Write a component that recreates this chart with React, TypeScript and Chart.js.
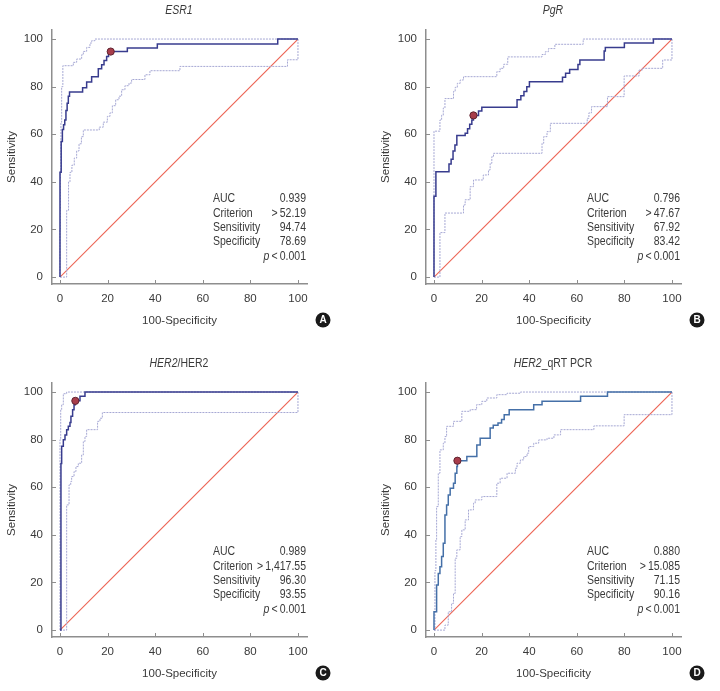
import React, { useEffect, useRef } from 'react';
import { Chart, registerables } from 'chart.js';

Chart.register(...registerables);

const FONT_FAMILY = "'Liberation Sans', Arial, sans-serif";
const AXIS_COLOR = '#8e8e8e';
const TEXT_COLOR = '#3a3a3a';
const CI_COLOR = '#a6a8d4';
const DIAGONAL_COLOR = 'rgb(236, 100, 84)';
const TEXT_SQUEEZE = 0.84;

const TICK_VALUES = [0, 20, 40, 60, 80, 100];
const STAT_LABELS = ['AUC', 'Criterion', 'Sensitivity', 'Specificity'];

type Step = [number, number];

// ROC curves: each pair is [100-specificity, sensitivity] at the top of a vertical step.
const ESR1_MAIN: Step[] = [
  [0, 44], [0.5, 57], [1, 62], [1.5, 64], [2, 66], [2.5, 70], [3, 73], [3.5, 76], [4, 77.8],
  [9.5, 79.5], [11.2, 82], [13.3, 84.2], [16.1, 87.5], [17.5, 89.2], [18.5, 91], [19.6, 92.7],
  [20.4, 94], [21.31, 94.74], [28.3, 96.2], [40.9, 97.9], [91.5, 100],
];
const ESR1_UPPER: Step[] = [
  [0, 20], [0.2, 45], [0.4, 65], [0.7, 80], [1.2, 88.8], [5.6, 90.2], [7, 91.6], [9.1, 93.4],
  [9.8, 94.8], [11.2, 96.5], [12.6, 98.3], [13.3, 99.3], [14.7, 100],
];
const ESR1_LOWER: Step[] = [
  [2.8, 28], [3.6, 40], [4.2, 44], [5, 47], [6, 50], [7, 53], [8, 56], [9, 59], [9.8, 61.8],
  [16.5, 63], [18.2, 65.1], [19.9, 67.5], [21, 69], [22, 72], [23.4, 74.5], [24.8, 76],
  [25.9, 78.7], [27.3, 80.4], [29, 81.5], [30.1, 83], [35.7, 85], [37.8, 86.7], [50.4, 88.5],
  [95.6, 91.3],
];

const PGR_MAIN: Step[] = [
  [0, 34], [0.8, 44.3], [6.3, 47.5], [7.2, 49.5], [8, 53], [8.8, 55.5], [9.6, 59.5], [13.1, 60.4],
  [14.1, 62.3], [15, 64.2], [15.9, 66], [16.58, 67.92], [18.7, 69.8], [20.1, 71.3], [34.9, 74.5],
  [36.5, 76.2], [37.8, 78], [39, 80], [40.1, 82.1], [54, 84], [55.3, 85.6], [57, 87.2],
  [60.5, 89.3], [61.3, 91.2], [71.5, 95], [72, 96.5], [80, 98.3], [92.2, 100],
];
const PGR_UPPER: Step[] = [
  [0, 61.3], [2.5, 66], [3.2, 68], [3.9, 71], [4.6, 75], [8.2, 78], [8.9, 79.7], [9.8, 81.4],
  [11, 82.8], [12.4, 84.2], [26.4, 86.3], [27.8, 87.7], [29.3, 89.4], [31, 92.5], [45.4, 93.5],
  [46.8, 94.7], [48.1, 96], [50.8, 97.8], [62.7, 100],
];
const PGR_LOWER: Step[] = [
  [2.5, 18.7], [4.6, 26.9], [12.4, 30.3], [13.1, 32.5], [15.2, 38], [16.6, 40.8], [20.7, 42.9],
  [22.9, 45], [23.6, 47.8], [24.3, 50.6], [25, 52], [45.4, 56.2], [46.1, 59], [47.5, 61.1],
  [48.9, 64.6], [64.4, 66.7], [65.1, 69], [66.2, 71.6], [72.9, 75.8], [79.9, 84.5], [86.2, 87],
  [87.6, 87.7], [96.1, 91.2],
];

const HER2_IHC_MAIN: Step[] = [
  [0.4, 70], [0.7, 77.2], [1.4, 80], [2.1, 82], [2.8, 84.2], [3.5, 85.6], [4.2, 87.2], [4.6, 89.8],
  [5.3, 92.6], [5.9, 94.7], [6.45, 96.3], [8.4, 98.2], [10.5, 100],
];
const HER2_IHC_UPPER: Step[] = [
  [0, 80], [0.3, 92.6], [0.7, 94.7], [1.4, 99.3], [2.8, 100],
];
const HER2_IHC_LOWER: Step[] = [
  [2.8, 52.6], [3.8, 61], [4.5, 62.4], [4.9, 64.5], [5.9, 66.6], [6.7, 68.7], [7.7, 70.1],
  [9.1, 73.6], [9.8, 79.2], [10.5, 81.3], [11.2, 84.2], [15.8, 87.7], [16.8, 89], [17.8, 91.4],
];

const HER2_PCR_MAIN: Step[] = [
  [0, 7.7], [1.1, 18.9], [1.8, 23.8], [2.5, 26.6], [3.2, 30.9], [3.9, 36.5], [4.6, 48.4],
  [5.3, 52.6], [6, 56.8], [6.8, 59.6], [8.2, 61.7], [8.9, 65.9], [9.6, 68.7], [9.84, 71.15],
  [13.8, 72.9], [18, 77.8], [19.4, 80.6], [23.6, 84.9], [24.9, 86], [26.9, 87], [28.4, 88.5],
  [29.5, 90.5], [31.6, 92.6], [41.9, 94.7], [45.4, 96.1], [61.6, 98.2], [72.9, 100],
];
const HER2_PCR_UPPER: Step[] = [
  [0.4, 25], [0.8, 37.9], [1.1, 51.9], [1.8, 65.9], [2.5, 75.7], [3.9, 78.5], [4.6, 81.3],
  [5.3, 85.6], [8.2, 87.7], [11.7, 91.9], [15.2, 92.6], [17.9, 94.7], [20.1, 96.1], [22.2, 97.5],
  [26.4, 98.9], [30.7, 99.5], [36.3, 100],
];
const HER2_PCR_LOWER: Step[] = [
  [4.6, 2.1], [6, 7.7], [7.4, 11.2], [8.2, 15.4], [8.9, 30.2], [9.6, 33.7], [11, 39.3],
  [11.7, 42.1], [13.1, 46.3], [14.5, 50.5], [16.6, 53.3], [17.3, 54.7], [20.1, 56.1],
  [26.4, 61.7], [27.8, 63.8], [30.7, 65.9], [34.2, 68], [34.9, 70.1], [36.3, 71.5], [37.7, 72.9],
  [39.1, 74.3], [39.8, 77.1], [41.9, 78.5], [44, 79.9], [47.5, 80.6], [50.4, 82], [53.2, 84.2],
  [67.2, 85.8], [79.9, 90.5],
];

// Chance line
const DIAGONAL_X = [0, 100];
const DIAGONAL_Y = [0, 100];

// Summary statistics per panel (A, B, C, D)
const AUC_VALUES = ['0.939', '0.796', '0.989', '0.880'];
const CRITERIA = ['52.19', '47.67', '1,417.55', '15.085'];
const SENSITIVITY = [94.74, 67.92, 96.3, 71.15];
const SPECIFICITY = [78.69, 83.42, 93.55, 90.16];
const P_VALUES = ['0.001', '0.001', '0.001', '0.001'];
const LETTERS = ['A', 'B', 'C', 'D'];

// Title pieces: [text, italic]
const TITLES: [string, boolean][][] = [
  [['ESR1', true]],
  [['PgR', true]],
  [['HER2', true], ['/HER2', false]],
  [['HER2', true], ['_qRT PCR', false]],
];

const MAIN_CURVES = [ESR1_MAIN, PGR_MAIN, HER2_IHC_MAIN, HER2_PCR_MAIN];
const UPPER_CURVES = [ESR1_UPPER, PGR_UPPER, HER2_IHC_UPPER, HER2_PCR_UPPER];
const LOWER_CURVES = [ESR1_LOWER, PGR_LOWER, HER2_IHC_LOWER, HER2_PCR_LOWER];
const MAIN_COLORS = ['#383c8e', '#383c8e', '#383c8e', '#4570a8'];

const PANEL_W = 346;
const PANEL_H = 338;
const PANEL_POS = [
  [0, 0],
  [374, 0],
  [0, 353],
  [374, 353],
];

function staircase(steps: Step[]) {
  const out = [{ x: 0, y: 0 }];
  let y = 0;
  for (const [sx, sy] of steps) {
    out.push({ x: sx, y });
    out.push({ x: sx, y: sy });
    y = sy;
  }
  out.push({ x: 100, y });
  if (y !== 100) out.push({ x: 100, y: 100 });
  return out;
}

const font = (size: number, style = 'normal', weight = 'normal') =>
  `${style} ${weight} ${size}px ${FONT_FAMILY}`;

// Draws text horizontally condensed; align is relative to x.
function squeezedText(
  ctx: CanvasRenderingContext2D,
  text: string,
  x: number,
  y: number,
  align: 'left' | 'right' | 'center',
) {
  ctx.save();
  ctx.translate(x, y);
  ctx.scale(TEXT_SQUEEZE, 1);
  ctx.textAlign = align;
  ctx.fillText(text, 0, 0);
  ctx.restore();
}

function makeOverlay(i: number) {
  return {
    id: 'rocOverlay',
    afterDraw(chart: any) {
      const { ctx, chartArea } = chart;
      const xs = chart.scales.x;
      const ys = chart.scales.y;
      ctx.save();

      // inward tick marks
      ctx.strokeStyle = AXIS_COLOR;
      ctx.lineWidth = 1;
      for (const v of TICK_VALUES) {
        const px = Math.round(xs.getPixelForValue(v)) + 0.5;
        ctx.beginPath();
        ctx.moveTo(px, chartArea.bottom);
        ctx.lineTo(px, chartArea.bottom - 4);
        ctx.stroke();
        const py = Math.round(ys.getPixelForValue(v)) + 0.5;
        ctx.beginPath();
        ctx.moveTo(chartArea.left, py);
        ctx.lineTo(chartArea.left + 4, py);
        ctx.stroke();
      }

      // panel title
      ctx.fillStyle = TEXT_COLOR;
      ctx.textBaseline = 'middle';
      const pieces = TITLES[i];
      let total = 0;
      for (const [t, it] of pieces) {
        ctx.font = font(12.5, it ? 'italic' : 'normal');
        total += ctx.measureText(t).width * TEXT_SQUEEZE;
      }
      let tx = (xs.getPixelForValue(0) + xs.getPixelForValue(100)) / 2 - total / 2;
      for (const [t, it] of pieces) {
        ctx.font = font(12.5, it ? 'italic' : 'normal');
        squeezedText(ctx, t, tx, 11, 'left');
        tx += ctx.measureText(t).width * TEXT_SQUEEZE;
      }

      // statistics block
      const labelX = chartArea.left + 161;
      const valueX = chartArea.left + 254;
      const rowY = (r: number) => chartArea.top + 169 + r * 14.3;
      const values = [
        AUC_VALUES[i],
        '>\u2009' + CRITERIA[i],
        SENSITIVITY[i].toFixed(2),
        SPECIFICITY[i].toFixed(2),
      ];
      ctx.font = font(12.5);
      STAT_LABELS.forEach((lab, r) => {
        squeezedText(ctx, lab, labelX, rowY(r), 'left');
        squeezedText(ctx, values[r], valueX, rowY(r), 'right');
      });
      const pRest = '\u2009<\u2009' + P_VALUES[i];
      squeezedText(ctx, pRest, valueX, rowY(4), 'right');
      const restW = ctx.measureText(pRest).width * TEXT_SQUEEZE;
      ctx.font = font(12.5, 'italic');
      squeezedText(ctx, 'p', valueX - restW, rowY(4), 'right');

      // panel letter badge
      const bx = chartArea.right + 16;
      const by = PANEL_H - 18;
      ctx.fillStyle = '#1a1a1a';
      ctx.beginPath();
      ctx.arc(bx, by, 7.5, 0, Math.PI * 2);
      ctx.fill();
      ctx.fillStyle = '#ffffff';
      ctx.font = `normal bold 10px 'Liberation Sans', Arial, sans-serif`;
      ctx.textAlign = 'center';
      ctx.textBaseline = 'middle';
      ctx.fillText(LETTERS[i], bx, by + 0.5);

      ctx.restore();
    },
  };
}

function RocPanel({ index }: { index: number }) {
  const ref = useRef<HTMLCanvasElement | null>(null);

  useEffect(() => {
    if (!ref.current) return;
    const tickFont = { family: FONT_FAMILY, size: 11.5 };
    const chart = new Chart(ref.current, {
      type: 'line',
      data: {
        datasets: [
          {
            label: 'Criterion',
            data: [{ x: 100 - SPECIFICITY[index], y: SENSITIVITY[index] }],
            showLine: false,
            pointRadius: 3.6,
            pointBackgroundColor: '#a83d4b',
            pointBorderColor: '#5f2430',
            pointBorderWidth: 1,
            order: 0,
          },
          {
            label: 'ROC',
            data: staircase(MAIN_CURVES[index]),
            borderColor: MAIN_COLORS[index],
            backgroundColor: MAIN_COLORS[index],
            borderWidth: 1.5,
            pointRadius: 0,
            order: 1,
          },
          {
            label: 'Upper 95% CI',
            data: staircase(UPPER_CURVES[index]),
            borderColor: CI_COLOR,
            backgroundColor: CI_COLOR,
            borderWidth: 1,
            borderDash: [2, 1],
            pointRadius: 0,
            order: 2,
          },
          {
            label: 'Lower 95% CI',
            data: staircase(LOWER_CURVES[index]),
            borderColor: CI_COLOR,
            backgroundColor: CI_COLOR,
            borderWidth: 1,
            borderDash: [2, 1],
            pointRadius: 0,
            order: 3,
          },
          {
            label: 'Reference',
            data: DIAGONAL_X.map((x, k) => ({ x, y: DIAGONAL_Y[k] })),
            borderColor: DIAGONAL_COLOR,
            backgroundColor: DIAGONAL_COLOR,
            borderWidth: 1.1,
            borderDash: [],
            fill: false,
            pointRadius: 0,
            order: 4,
          },
        ],
      },
      options: {
        responsive: false,
        animation: false,
        devicePixelRatio: 1,
        layout: { padding: { top: 30, left: 0, right: 39, bottom: 0 } },
        plugins: {
          legend: { display: false },
          tooltip: { enabled: false },
          title: { display: false },
        },
        scales: {
          x: {
            type: 'linear',
            min: -3.36,
            max: 103.8,
            afterBuildTicks: (s: any) => {
              s.ticks = TICK_VALUES.map((v) => ({ value: v }));
            },
            afterFit: (s: any) => {
              s.height = 54;
            },
            grid: { display: false, drawTicks: false },
            border: { display: true, color: AXIS_COLOR, width: 1.5 },
            ticks: {
              padding: 8,
              font: tickFont,
              color: TEXT_COLOR,
              maxRotation: 0,
              autoSkip: false,
            },
            title: {
              display: true,
              text: '100-Specificity',
              font: tickFont,
              color: TEXT_COLOR,
              padding: { top: 0, bottom: 9.8 },
            },
          },
          y: {
            type: 'linear',
            min: -2.9,
            max: 103.8,
            afterBuildTicks: (s: any) => {
              s.ticks = TICK_VALUES.map((v) => ({ value: v }));
            },
            afterFit: (s: any) => {
              s.width = 52;
            },
            grid: { display: false, drawTicks: false },
            border: { display: true, color: AXIS_COLOR, width: 1.5 },
            ticks: {
              padding: 9,
              font: tickFont,
              color: TEXT_COLOR,
              autoSkip: false,
            },
            title: {
              display: true,
              text: 'Sensitivity',
              font: tickFont,
              color: TEXT_COLOR,
              padding: { top: 5, bottom: 0 },
            },
          },
        },
      },
      plugins: [makeOverlay(index)],
    } as any);
    return () => chart.destroy();
  }, [index]);

  const [left, top] = PANEL_POS[index];
  return (
    <canvas
      ref={ref}
      width={PANEL_W}
      height={PANEL_H}
      style={{ position: 'absolute', left, top, width: PANEL_W, height: PANEL_H }}
    />
  );
}

export default function App() {
  return (
    <div
      style={{
        position: 'absolute',
        left: 0,
        top: 0,
        width: 720,
        height: 691,
        background: '#ffffff',
        overflow: 'hidden',
      }}
    >
      {[0, 1, 2, 3].map((i) => (
        <RocPanel key={i} index={i} />
      ))}
    </div>
  );
}
